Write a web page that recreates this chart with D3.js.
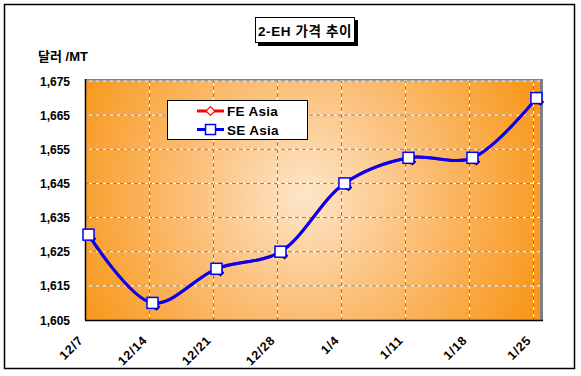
<!DOCTYPE html>
<html>
<head>
<meta charset="utf-8">
<script src="https://cdn.jsdelivr.net/npm/d3@7"></script>
<style>
  body { margin: 0; background: #fff; }
  svg { display: block; font-family: Arial, "Liberation Sans", "Noto Sans CJK KR", sans-serif; }
</style>
</head>
<body>
<svg id="chart" width="581" height="376"></svg>
<script>
// data
const categories = ['12/7', '12/14', '12/21', '12/28', '1/4', '1/11', '1/18', '1/25'];
const feAsia = [1630, 1610, 1620, 1625, 1645, 1652.5, 1652.5, 1670];
const seAsia = [1630, 1610, 1620, 1625, 1645, 1652.5, 1652.5, 1670];
const yTicks = [1605, 1615, 1625, 1635, 1645, 1655, 1665, 1675];

const svg = d3.select('#chart');
const margin = { left: 85, top: 81, right: 540, bottom: 320 };
const shift = 3.5; // markers sit a little right of the category gridline

// outer frame
svg.append('rect')
  .attr('x', 4.5).attr('y', 4.5).attr('width', 570).attr('height', 364)
  .attr('fill', '#fff').attr('stroke', '#000').attr('stroke-width', 1.5);

// gradient background
const defs = svg.append('defs');
const grad = defs.append('radialGradient')
  .attr('id', 'bg')
  .attr('gradientUnits', 'userSpaceOnUse')
  .attr('cx', 305).attr('cy', 195).attr('r', 250);
grad.append('stop').attr('offset', '0%').attr('stop-color', '#fde6c9');
grad.append('stop').attr('offset', '45%').attr('stop-color', '#fbc07a');
grad.append('stop').attr('offset', '100%').attr('stop-color', '#f8981c');

const x = d3.scaleLinear().domain([0, 7.11]).range([margin.left, margin.right]);
const y = d3.scaleLinear().domain([1605, 1675]).range([margin.bottom, margin.top]);

// plot shadow + area
svg.append('rect')
  .attr('x', margin.left).attr('y', margin.top - 2)
  .attr('width', margin.right - margin.left + 3).attr('height', margin.bottom - margin.top + 2)
  .attr('fill', '#808080');
svg.append('rect')
  .attr('x', margin.left).attr('y', margin.top)
  .attr('width', margin.right - margin.left).attr('height', margin.bottom - margin.top)
  .attr('fill', 'url(#bg)');

// gridlines
const grid = svg.append('g');
yTicks.slice(1).forEach(t => {
  grid.append('line')
    .attr('x1', margin.left).attr('x2', margin.right)
    .attr('y1', y(t)).attr('y2', y(t))
    .attr('stroke', '#fff').attr('stroke-width', 1);
  grid.append('line')
    .attr('x1', margin.left).attr('x2', margin.right)
    .attr('y1', y(t)).attr('y2', y(t))
    .attr('stroke', '#808080').attr('stroke-width', 1)
    .attr('stroke-dasharray', '4,3');
});
categories.slice(1).forEach((c, i) => {
  const xp = Math.round(x(i + 1)) + 0.5;
  grid.append('line')
    .attr('x1', xp).attr('x2', xp)
    .attr('y1', margin.top).attr('y2', margin.bottom)
    .attr('stroke', '#fff').attr('stroke-width', 1);
  grid.append('line')
    .attr('x1', xp).attr('x2', xp)
    .attr('y1', margin.top).attr('y2', margin.bottom)
    .attr('stroke', '#808080').attr('stroke-width', 1)
    .attr('stroke-dasharray', '4,3').attr('stroke-dashoffset', 2);
});

// axes lines
svg.append('line')
  .attr('x1', margin.left + 0.5).attr('x2', margin.left + 0.5)
  .attr('y1', margin.top - 2).attr('y2', margin.bottom)
  .attr('stroke', '#000').attr('stroke-width', 1.5);
svg.append('line')
  .attr('x1', margin.left).attr('x2', margin.right + 3)
  .attr('y1', margin.bottom + 0.5).attr('y2', margin.bottom + 0.5)
  .attr('stroke', '#000').attr('stroke-width', 1.5);

// y tick labels
const fmt = d3.format(',');
svg.append('g').selectAll('text')
  .data(yTicks).enter().append('text')
  .attr('x', 70).attr('y', d => y(d) + 4.5)
  .attr('text-anchor', 'end')
  .attr('font-size', 12).attr('font-weight', 'bold')
  .text(d => fmt(d));

// x tick labels, rotated
svg.append('g').selectAll('text')
  .data(categories).enter().append('text')
  .attr('transform', (d, i) => `translate(${x(i) - 1},${margin.bottom + 21}) rotate(-45)`)
  .attr('text-anchor', 'end')
  .attr('font-size', 12.5).attr('font-weight', 'bold')
  .attr('letter-spacing', 0.8)
  .text(d => d);

// y axis title
svg.append('text')
  .attr('x', 38).attr('y', 61)
  .attr('font-size', 13).attr('font-weight', 'bold')
  .text('달러 /MT');

// lines
const line = d3.line()
  .x((d, i) => x(i) + shift)
  .y(d => y(d))
  .curve(d3.curveCatmullRom.alpha(0.5));

svg.append('path').datum(feAsia)
  .attr('d', line).attr('fill', 'none')
  .attr('stroke', '#ff0000').attr('stroke-width', 3);

// FE markers: shadow + red diamond
const fe = svg.append('g');
fe.selectAll('path.sh').data(feAsia).enter().append('path')
  .attr('d', d3.symbol().type(d3.symbolDiamond2).size(36))
  .attr('transform', (d, i) => `translate(${x(i) + shift + 4},${y(d) + 4})`)
  .attr('fill', '#000');
fe.selectAll('path.mk').data(feAsia).enter().append('path')
  .attr('d', d3.symbol().type(d3.symbolDiamond2).size(40))
  .attr('transform', (d, i) => `translate(${x(i) + shift + 2},${y(d) + 2})`)
  .attr('fill', '#fff').attr('stroke', '#ff0000').attr('stroke-width', 1.2);

svg.append('path').datum(seAsia)
  .attr('d', line).attr('fill', 'none')
  .attr('stroke', '#0000ff').attr('stroke-width', 3);

// SE markers: white squares with blue border
svg.append('g').selectAll('rect')
  .data(seAsia).enter().append('rect')
  .attr('x', (d, i) => x(i) + shift - 5.5).attr('y', d => y(d) - 5.5)
  .attr('width', 11).attr('height', 11)
  .attr('fill', '#fff').attr('stroke', '#0000ff').attr('stroke-width', 1.5);

// title box
svg.append('rect')
  .attr('x', 258).attr('y', 20).attr('width', 100).attr('height', 26)
  .attr('fill', '#000');
svg.append('rect')
  .attr('x', 255.5).attr('y', 17.5).attr('width', 99).attr('height', 25)
  .attr('fill', '#fff').attr('stroke', '#000').attr('stroke-width', 1);
svg.append('text')
  .attr('x', 305).attr('y', 35.5)
  .attr('text-anchor', 'middle')
  .attr('font-size', 13.5).attr('font-weight', 'bold')
  .attr('letter-spacing', 0.6)
  .text('2-EH 가격 추이');

// legend
const lg = svg.append('g');
lg.append('rect')
  .attr('x', 167.5).attr('y', 100.5).attr('width', 140).attr('height', 39)
  .attr('fill', '#fff').attr('stroke', '#000').attr('stroke-width', 1);
const legendItems = [
  { name: 'FE Asia', color: '#ff0000', shape: 'diamond' },
  { name: 'SE Asia', color: '#0000ff', shape: 'square' }
];
legendItems.forEach((it, i) => {
  const ly = 111 + i * 18.5;
  lg.append('line')
    .attr('x1', 197).attr('x2', 224).attr('y1', ly).attr('y2', ly)
    .attr('stroke', it.color).attr('stroke-width', 3);
  if (it.shape === 'diamond') {
    lg.append('path')
      .attr('d', d3.symbol().type(d3.symbolDiamond2).size(50))
      .attr('transform', `translate(210.5,${ly})`)
      .attr('fill', '#fff').attr('stroke', it.color).attr('stroke-width', 1.2);
  } else {
    lg.append('rect')
      .attr('x', 205.5).attr('y', ly - 5).attr('width', 10).attr('height', 10)
      .attr('fill', '#fff').attr('stroke', it.color).attr('stroke-width', 1.5);
  }
  lg.append('text')
    .attr('x', 227).attr('y', ly + 5)
    .attr('font-size', 13.5).attr('font-weight', 'bold')
    .attr('letter-spacing', 0.3)
    .text(it.name);
});
</script>
</body>
</html>
